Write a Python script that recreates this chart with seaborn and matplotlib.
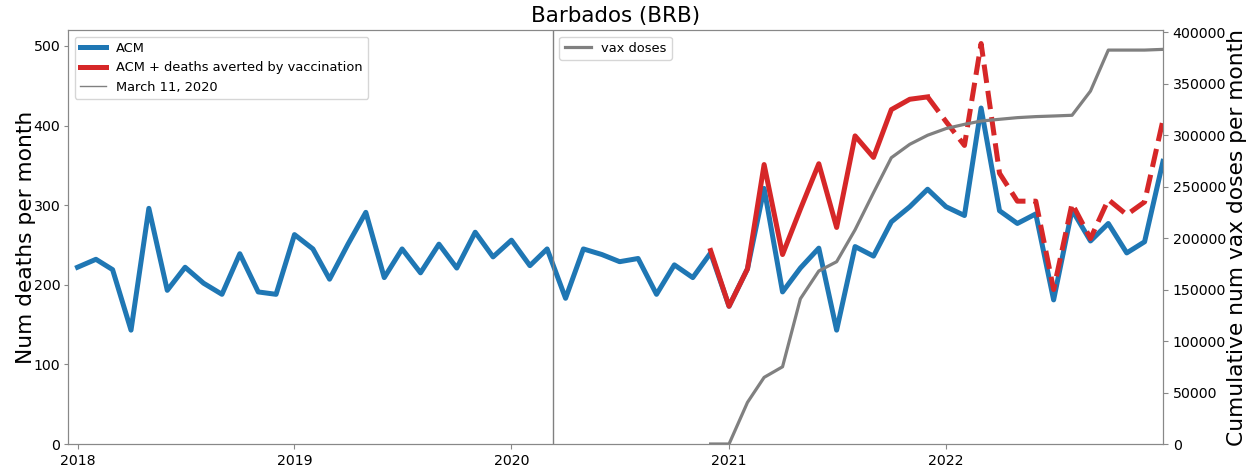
import matplotlib
matplotlib.use("Agg")
import matplotlib.pyplot as plt
import matplotlib.dates as mdates
from matplotlib.ticker import MultipleLocator
from matplotlib.lines import Line2D
import seaborn as sns
import pandas as pd
import numpy as np

# ---- data ----
dates = pd.date_range("2018-01-01", "2023-01-01", freq="MS")

acm = [222, 232, 219, 143, 296, 193, 222, 202, 188, 239, 191, 188,
       263, 245, 207, 251, 291, 209, 245, 215, 251, 221, 266, 235,
       256, 224, 245, 183, 245, 238, 229, 233, 188, 225, 209, 240,
       173, 220, 321, 191, 221, 246, 143, 248, 236, 279, 298, 320,
       298, 287, 422, 293, 277, 289, 181, 294, 255, 277, 240, 254,
       355]

averted_solid_dates = pd.date_range("2020-12-01", "2021-12-01", freq="MS")
averted_solid = [243, 173, 220, 351, 238, 295, 352, 272, 387, 360, 420, 433, 436]

averted_dash_dates = pd.date_range("2021-12-01", "2023-01-01", freq="MS")
averted_dash = [436, 405, 375, 503, 340, 305, 305, 194, 302, 258, 307, 288, 304, 407]

vax_dates = pd.date_range("2020-12-01", "2023-01-01", freq="MS")
vax = [0, 0, 40400, 64700, 75000, 141000, 168000, 177000, 208000, 244000,
       278000, 291000, 299800, 306300, 310400, 313600, 315300, 316900,
       317900, 318500, 319200, 342700, 382500, 382500, 382500, 383200]

year_ticks = ["2018", "2019", "2020", "2021", "2022"]

marker_date = pd.Timestamp("2020-03-11")

df_acm = pd.DataFrame({"date": dates, "val": acm})
df_sol = pd.DataFrame({"date": averted_solid_dates, "val": averted_solid})
df_dash = pd.DataFrame({"date": averted_dash_dates, "val": averted_dash})
df_vax = pd.DataFrame({"date": vax_dates, "val": vax})

BLUE = "#1f77b4"
RED = "#d62728"
GREY = "#808080"

fig = plt.figure(figsize=(12.59, 4.70), dpi=100)
ax1 = fig.add_axes([68 / 1259, 26 / 470, (1163 - 68) / 1259, (444 - 30) / 470])

sns.lineplot(data=df_acm, x="date", y="val", ax=ax1, color=BLUE, lw=3.6, legend=False)
sns.lineplot(data=df_sol, x="date", y="val", ax=ax1, color=RED, lw=3.6, legend=False)
sns.lineplot(data=df_dash, x="date", y="val", ax=ax1, color=RED, lw=3.6,
             linestyle="--", legend=False)
ax1.axvline(marker_date, color=GREY, lw=1)

xlim = (pd.Timestamp("2017-12-16"), pd.Timestamp("2023-01-01"))
ax1.set_ylim(0, 520)
ax1.yaxis.set_major_locator(MultipleLocator(100))
ax1.set_xlim(*xlim)
ax1.set_xticks([pd.Timestamp(y + "-01-01") for y in year_ticks])
ax1.set_xticklabels(year_ticks)
ax1.set_xlabel("")
ax1.set_ylabel("Num deaths per month", fontsize=15.7)
ax1.yaxis.set_label_coords(-0.029, 0.5)
ax1.set_title("Barbados (BRB)", fontsize=15.4)
ax1.tick_params(labelsize=10.2)
ax1.tick_params(axis="y", length=3, pad=2.5)

handles1 = [Line2D([], [], color=BLUE, lw=3.6),
            Line2D([], [], color=RED, lw=3.6),
            Line2D([], [], color=GREY, lw=1)]
ax1.legend(handles1, ["ACM", "ACM + deaths averted by vaccination", "March 11, 2020"],
           loc="upper left", fontsize=9.4)

ax2 = ax1.twinx()
sns.lineplot(data=df_vax, x="date", y="val", ax=ax2, color=GREY, lw=2.3, legend=False)
ax2.set_ylim(0, 402000)
ax2.yaxis.set_major_locator(MultipleLocator(50000))
ax2.set_ylabel("Cumulative num vax doses per month", fontsize=15.7, labelpad=0.5)
ax2.set_xlabel("")
ax2.tick_params(labelsize=10.2)
ax2.legend([Line2D([], [], color=GREY, lw=2.3)], ["vax doses"],
           loc="upper center", fontsize=9.4)
ax2.set_xlim(*xlim)

for ax in (ax1, ax2):
    for s in ax.spines.values():
        s.set_color("#888888")
    ax.tick_params(color="#888888")

fig.savefig("out.png", dpi=100)
